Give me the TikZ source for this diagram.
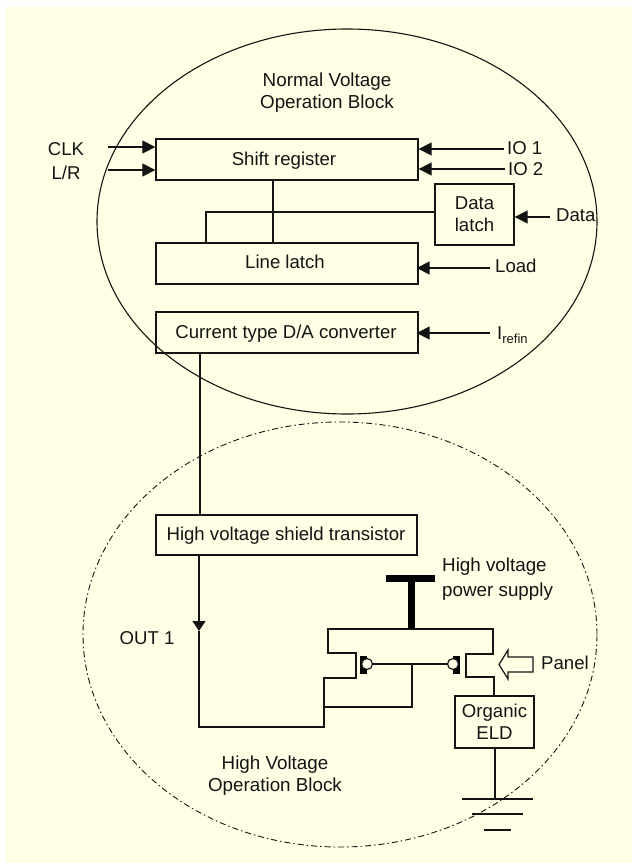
\documentclass[tikz,border=0pt]{standalone}
\usepackage{fontspec}
\setmainfont{Liberation Sans}
\usetikzlibrary{arrows.meta,shapes.geometric,calc}
\definecolor{bgyellow}{HTML}{FFFFE5}
\definecolor{inkc}{HTML}{141414}
\tikzset{
  wire/.style={draw=inkc,line width=1.2bp},
  inarrow/.style={wire,-{Triangle[length=13bp,width=13bp]}},
  block/.style={draw=inkc,line width=1.3bp,rectangle,inner sep=0pt,text=inkc,align=center,font=\fontsize{18.6bp}{22bp}\selectfont},
  lab/.style={inner sep=0pt,text=inkc,font=\fontsize{18.6bp}{22bp}\selectfont,text height=13bp,text depth=0bp},
  lablines/.style={inner sep=0pt,text=inkc,align=center,font=\fontsize{18.8bp}{22bp}\selectfont},
  solidblob/.style={fill=black,draw=none,rectangle,inner sep=0pt},
  gatebubble/.style={circle,draw=inkc,line width=1.2bp,fill=bgyellow,minimum size=11bp,inner sep=0pt},
  opgroup/.style={ellipse,draw=inkc,inner sep=0pt}
}
\begin{document}
\begin{tikzpicture}[x=1bp,y=-1bp]
\useasboundingbox (0,0) rectangle (632,863);
\fill[white] (0,0) rectangle (632,863);
\fill[bgyellow] (5,7) rectangle (632,863);
% group ellipses
\node[opgroup,line width=1.1bp,minimum width=500bp,minimum height=385bp] (normal) at (347,221.5) {};
\node[opgroup,line width=0.9bp,minimum width=514bp,minimum height=425bp,dash pattern=on 6bp off 3bp on 1.5bp off 3bp] (high) at (340,634.5) {};
% blocks
\node[block,minimum width=262bp,minimum height=41bp] (sr) at (287,159.5) {};
\node[lab] at (284,159) {Shift register};
\node[block,minimum width=262bp,minimum height=41bp] (ll) at (287,263.5) {};
\node[lab] at (285,262) {Line latch};
\node[block,minimum width=262bp,minimum height=41bp] (da) at (287,332.5) {};
\node[lab] at (286,332) {Current type D/A converter};
\node[block,minimum width=79bp,minimum height=61bp] (dl) at (474.5,214.5) {Data\\latch};
\node[block,minimum width=261bp,minimum height=40bp] (hv) at (286.5,535) {};
\node[lab] at (286,534) {High voltage shield transistor};
\node[block,minimum width=79bp,minimum height=52bp] (eld) at (494.5,722) {Organic\\ELD};
% labels
\node[lablines] at (327,92.5) {Normal Voltage\\Operation Block};
\node[lab] (clk) at (66,149) {CLK};
\node[lab] (lr) at (66,173) {L/R};
\node[lab,anchor=west] (io1) at (507,148) {IO 1};
\node[lab,anchor=west] (io2) at (508,169) {IO 2};
\node[lab,anchor=west] (dat) at (556,215) {Data};
\node[lab,anchor=west] (load) at (495,266) {Load};
\node[lab,anchor=west] (iref) at (497,333) {I\textsubscript{refin}};
\node[lablines,align=left,anchor=west] (supply) at (442,579) {High voltage\\[3bp]power supply};
\node[lab,anchor=west] (panel) at (541,663) {Panel};
\node[lab] (out) at (147,638) {OUT 1};
\node[lablines] at (275,776) {High Voltage\\Operation Block};
% input connectors
\coordinate (clkS) at (108,147);
\coordinate (lrS) at (108,170);
\draw[inarrow] (clkS) -- (clkS -| sr.west);
\draw[inarrow] (lrS) -- (lrS -| sr.west);
\draw[inarrow] ([xshift=-3bp,yshift=0bp]io1.west |- 0,149) -- (sr.east |- 0,149);
\draw[inarrow] ([xshift=-3bp]io2.west |- 0,169) -- (sr.east |- 0,169);
\draw[inarrow] ([xshift=-6bp]dat.west |- 0,217) -- (dl.east |- 0,217);
\draw[inarrow,shorten >=-2bp] ([xshift=-5bp]load.west |- 0,268) -- (ll.east |- 0,268);
\draw[inarrow,shorten >=-2bp] ([xshift=-7bp]iref.west |- 0,333) -- (da.east |- 0,333);
% internal connectors
\coordinate (busT) at (273,212);
\draw[wire] (sr.south -| busT) -- (ll.north -| busT);
\draw[wire] (dl.west |- busT) -- (206,212) -- (ll.north -| 206,212);
\draw[wire] (da.south -| 200,0) -- (hv.north -| 200,0);
% output line
\coordinate (outtip) at (199,631);
\coordinate (outEnd) at (199,727);
\draw[wire,-{Triangle[length=10bp,width=13bp]}] (hv.south -| outtip) -- (outtip);
% transistor pair
\node[solidblob,minimum width=49bp,minimum height=7bp] (vddbar) at (410.5,578.5) {};
\coordinate (rail) at (411.5,629);
\draw[line width=7bp,black] (vddbar.south -| rail) -- (rail);
\node[solidblob,minimum width=7bp,minimum height=18bp] (gL) at (363.5,665) {};
\node[solidblob,minimum width=7bp,minimum height=18bp] (gR) at (456.5,665) {};
\node[gatebubble] (bL) at (367,664) {};
\node[gatebubble] (bR) at (453,664) {};
\coordinate (gtap) at (412,664);
\draw[wire] (bL) -- (bR);
\draw[wire] (gtap) -- (412,707) -- (324,707);
\draw[wire,line join=miter] (outtip) -- (outEnd) -- (324,727) -- (324,678) -- (356,678) -- (356,653) -- (328,653) -- (328,629) -- (493,629) -- (493,654) -- (466,654) -- (466,677) -- (494,677) -- (eld.north -| 494,0);
% panel arrow
\draw[wire,inkc,line join=miter] (533,657) -- (508,657) -- (508,650) -- (499,664.5) -- (508,679) -- (508,672) -- (533,672) -- cycle;
% ground
\coordinate (gnd) at (495,799);
\draw[wire] (eld.south -| gnd) -- (gnd);
\draw[wire] (462,799) -- (533,799);
\draw[wire] (472,814) -- (523,814);
\draw[wire] (484,830) -- (511,830);
\end{tikzpicture}
\end{document}
